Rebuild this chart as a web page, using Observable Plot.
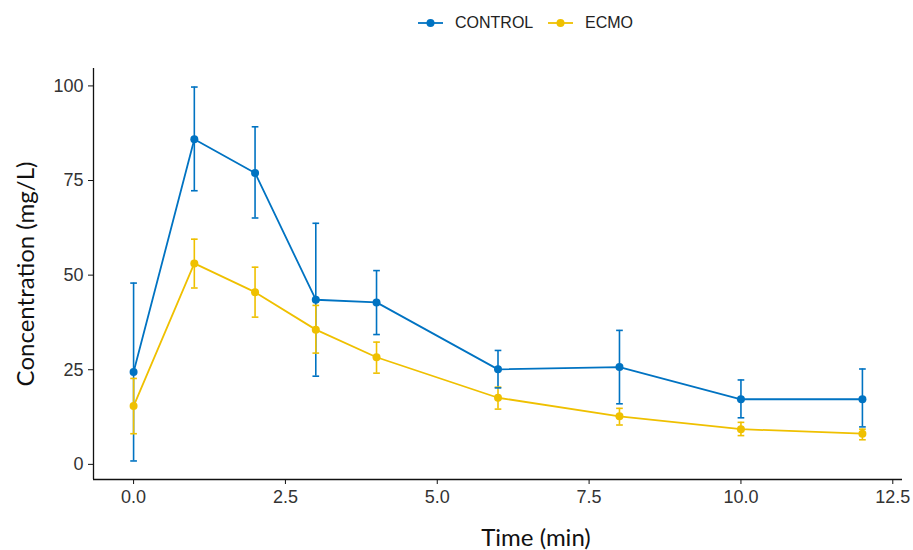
<!DOCTYPE html>
<html>
<head>
<meta charset="utf-8">
<script src="https://cdn.jsdelivr.net/npm/d3@7"></script>
<script src="https://cdn.jsdelivr.net/npm/@observablehq/plot@0.6"></script>
<style>
  html, body { margin: 0; padding: 0; background: #fff; }
  #legend { height: 45px; position: relative; font-family: "Liberation Sans", Arial, sans-serif; font-size: 16px; color: #222; }
  .item { position: absolute; top: 0; height: 45px; display: flex; align-items: center; }
  .item svg { margin-right: 12px; }
</style>
</head>
<body>
<div id="legend"></div>
<div id="chart"></div>
<script>
const times = [0, 1, 2, 3, 4, 6, 8, 10, 12];
const seriesNames = ["CONTROL", "ECMO"];
const seriesColors = ["#0073C2", "#EFC000"];
const controlMean = [24.4, 85.9, 77.0, 43.5, 42.8, 25.1, 25.7, 17.2, 17.2];
const controlLow  = [0.9, 72.3, 65.1, 23.3, 34.3, 20.2, 16.0, 12.3, 9.9];
const controlHigh = [47.9, 99.7, 89.2, 63.7, 51.2, 30.1, 35.4, 22.3, 25.2];
const ecmoMean = [15.4, 53.1, 45.5, 35.6, 28.3, 17.6, 12.7, 9.3, 8.1];
const ecmoLow  = [8.1, 46.6, 38.9, 29.4, 24.1, 14.6, 10.4, 7.6, 6.5];
const ecmoHigh = [22.7, 59.5, 52.1, 42.0, 32.3, 20.4, 14.8, 11.1, 9.3];
const yTicks = [0, 25, 50, 75, 100];
const xTicks = [0, 2.5, 5, 7.5, 10, 12.5];
const xTitle = "Time (min)";
const yTitle = "Concentration (mg/L)";

const means = [controlMean, ecmoMean], lows = [controlLow, ecmoLow], highs = [controlHigh, ecmoHigh];
const data = seriesNames.flatMap((s, i) => times.map((t, j) => ({
  series: s, t, mean: means[i][j], lo: lows[i][j], hi: highs[i][j]
})));

const capHalf = 0.055;
const xDomain = [-0.66, 12.66];
const yDomain = [-4.0, 104.6];

const plot = Plot.plot({
  width: 913,
  height: 505,
  marginLeft: 93,
  marginRight: 11,
  marginTop: 23,
  marginBottom: 71,
  style: { fontFamily: "Liberation Sans, Arial, sans-serif", fontSize: "18px", background: "#fff", overflow: "visible" },
  x: { domain: xDomain },
  y: { domain: yDomain },
  color: { domain: seriesNames, range: seriesColors },
  marks: [
    Plot.ruleX([xDomain[0]], { stroke: "#111", strokeWidth: 1.3 }),
    Plot.ruleY([yDomain[0]], { stroke: "#111", strokeWidth: 1.3 }),
    Plot.axisY(yTicks, { tickSize: 5, tickPadding: 5, fontSize: 18, color: "#333", stroke: "#111", label: null }),
    Plot.axisX(xTicks, { tickSize: 5, tickPadding: 6, fontSize: 18, color: "#333", stroke: "#111", tickFormat: d3.format(".1f"), label: null }),
    Plot.line(data, { x: "t", y: "mean", z: "series", stroke: "series", strokeWidth: 1.8 }),
    Plot.ruleX(data, { x: "t", y1: "lo", y2: "hi", stroke: "series", strokeWidth: 1.6 }),
    Plot.link(data, { x1: d => d.t - capHalf, x2: d => d.t + capHalf, y1: "hi", y2: "hi", stroke: "series", strokeWidth: 1.6 }),
    Plot.link(data, { x1: d => d.t - capHalf, x2: d => d.t + capHalf, y1: "lo", y2: "lo", stroke: "series", strokeWidth: 1.6 }),
    Plot.dot(data, { x: "t", y: "mean", fill: "series", r: 4 }),
    Plot.text([yTitle], { frameAnchor: "left", textAnchor: "middle", lineAnchor: "middle", rotate: -90, dx: -67, fontSize: 24, fill: "#111", fontFamily: "Lato, sans-serif" }),
    Plot.text([xTitle], { frameAnchor: "bottom", textAnchor: "middle", lineAnchor: "middle", dx: 38, dy: 59, fontSize: 24, fill: "#111", fontFamily: "Lato, sans-serif" })
  ]
});
document.getElementById("chart").appendChild(plot);

// legend
const legend = document.getElementById("legend");
const legendLefts = [418, 548];
seriesNames.forEach((s, i) => {
  const item = document.createElement("div");
  item.className = "item";
  item.style.left = legendLefts[i] + "px";
  item.innerHTML = `<svg width="25" height="10"><line x1="0" x2="25" y1="5" y2="5" stroke="${seriesColors[i]}" stroke-width="1.8"/><circle cx="12.5" cy="5" r="4" fill="${seriesColors[i]}"/></svg><span>${s}</span>`;
  legend.appendChild(item);
});
</script>
</body>
</html>
